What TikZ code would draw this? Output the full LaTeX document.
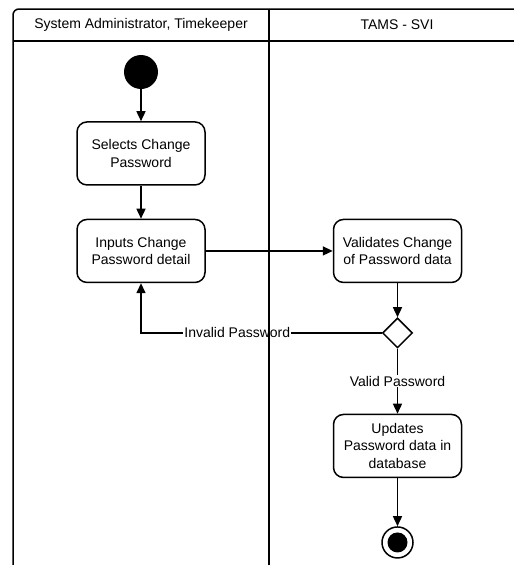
\documentclass[tikz,border=0pt]{standalone}
\usepackage{fontspec}
\setmainfont{Liberation Sans}
\usetikzlibrary{shapes.geometric, arrows.meta, positioning}
\tikzset{
  activity/.style={rectangle, rounded corners=10pt, draw=black, fill=white, line width=1.5pt,
                   minimum width=128pt, minimum height=63pt, align=center,
                   font=\fontsize{14}{17.5}\selectfont},
  decision/.style={diamond, draw=black, fill=white, line width=1.5pt,
                   minimum width=30pt, minimum height=30pt, inner sep=0pt},
  initial/.style={circle, fill=black, minimum size=34pt, inner sep=0pt},
  final/.style={circle, draw=black, fill=white, line width=1.5pt, minimum size=31pt, inner sep=0pt,
                path picture={\fill[black] (path picture bounding box.center) circle (10pt);}},
  guard/.style={fill=white, inner sep=1pt, font=\fontsize{14}{17}\selectfont},
  lanetitle/.style={font=\fontsize{14}{17}\selectfont},
  lane/.style={draw=black, line width=1.5pt},
  arrow/.style={-{Triangle[length=10pt, width=9pt]}, line width=1.5pt},
}

\begin{document}
\begin{tikzpicture}[x=1pt, y=-1pt, node distance=32pt and 127pt]
  \useasboundingbox (0,0) rectangle (514,565);
  \clip (0,0) rectangle (514,565);

  % Left lane: user actions
  \node[initial] (start) at (141,72) {};
  \node[activity, below=of start] (select) {Selects Change\\Password};
  \node[activity, below=33pt of select] (input) {Inputs Change\\Password detail};

  % Right lane: system actions
  \node[activity, right=of input] (validate) {Validates Change\\of Password data};
  \node[decision, below=34pt of validate] (check) {};
  \node[activity, below=65pt of check] (update) {Updates\\Password data in\\database};
  \node[final, below=48pt of update] (stop) {};

  % Flow
  \draw[arrow] (start) -- (select);
  \draw[arrow] (select) -- (input);
  \draw[arrow] (input) -- (validate);
  \draw[arrow] (validate) -- (check);
  \draw[arrow] (check.west) -| node[guard, pos=0.3]{Invalid Password} (input.south);
  \draw[arrow] (check.south) -- node[guard]{Valid Password} (update.north);
  \draw[arrow] (update) -- (stop);

  % Swimlanes
  \draw[lane, rounded corners=6pt] (13,580) |- (530,9);
  \draw[lane] (13,41) -- (530,41);
  \draw[lane] (269,9) -- (269,580);
  \node[lanetitle] (actor) at (141,25) {System Administrator, Timekeeper};
  \node[lanetitle] (system) at (397,25) {TAMS - SVI};
\end{tikzpicture}
\end{document}
